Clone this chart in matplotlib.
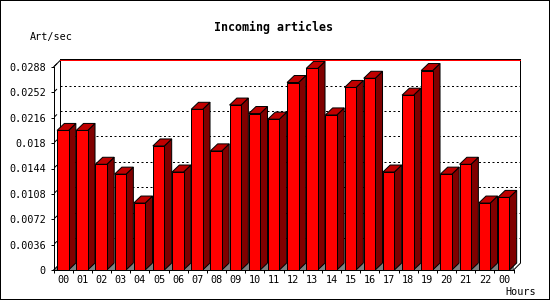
import matplotlib
matplotlib.use('Agg')
import numpy as np
from matplotlib import pyplot as plt
from matplotlib.patches import Polygon
from matplotlib.transforms import offset_copy

# data
hours = ['00', '01', '02', '03', '04', '05', '06', '07', '08', '09', '10', '11',
         '12', '13', '14', '15', '16', '17', '18', '19', '20', '21', '22', '00']
rates = [0.0198, 0.0198, 0.0150, 0.0136, 0.0095, 0.0176, 0.0139, 0.0228,
         0.0169, 0.0234, 0.0222, 0.0214, 0.0266, 0.0286, 0.0220, 0.0259,
         0.0272, 0.0139, 0.0248, 0.0283, 0.0136, 0.0150, 0.0095, 0.0103]
y_ticks = [0, 0.0036, 0.0072, 0.0108, 0.0144, 0.018, 0.0216, 0.0252, 0.0288]
y_labels = ['0', '0.0036', '0.0072', '0.0108', '0.0144', '0.018', '0.0216', '0.0252', '0.0288']

W, H = 550, 300
PX = 0.72  # 1 pixel in points at 100 dpi
mono = 'DejaVu Sans Mono'

# frame round the image: 2px line on the edge, half of it is clipped
fig = plt.figure(figsize=(W / 100, H / 100), dpi=100, facecolor='white',
                 edgecolor='black', linewidth=2 * PX)

# front plane of the pseudo-3d plot, in pixels
ax_l, ax_b, ax_w, ax_h = 53.6, 30, 460, 203
ax = fig.add_axes([ax_l / W, ax_b / H, ax_w / W, ax_h / H])
n = len(rates)
ymax = y_ticks[-1]
ax.set_xlim(-0.5, n - 0.5)
ax.set_ylim(0, ymax)
ax.patch.set_visible(False)

px_x = ax_w / n        # pixels per category
px_y = ax_h / ymax     # pixels per unit
depth = 6.7            # wall depth in pixels
Dx, Dy = depth / px_x, depth / px_y
bdx, bdy = 7.3 / px_x, 7.0 / px_y   # bar depth

back = offset_copy(ax.transData, fig=fig, x=depth, y=depth, units='dots')
back_top = offset_copy(ax.transData, fig=fig, x=depth, y=depth + 1, units='dots')

x0, x1 = -0.5, n - 0.5

# floor
ax.add_patch(Polygon([(x0, 0), (x1, 0), (x1 + Dx, Dy), (x0 + Dx, Dy)], closed=True,
                     facecolor='#808080', edgecolor='none', zorder=0.5))

# back wall grid
for v in y_ticks[1:-1]:
    ax.plot([x0, x1], [v, v], transform=back, color='black', lw=PX,
            linestyle=(0, (2, 2.5)), clip_on=False, zorder=1)

# back wall edges
ax.plot([x0, x0], [0, ymax], transform=back_top, color='black', lw=PX, clip_on=False, zorder=1)
ax.plot([x1, x1], [0, ymax], transform=back_top, color='black', lw=PX, clip_on=False, zorder=1)
ax.plot([x0, x1], [ymax, ymax], transform=back_top, color='black', lw=PX, clip_on=False, zorder=1)
ax.plot([x0, x1], [ymax, ymax], transform=back, color='red', lw=PX, clip_on=False, zorder=1.1)

# diagonals joining front and back planes
for xx, yy in [(x0, 0), (x0, ymax), (x1, 0)]:
    ax.plot([xx, xx + Dx], [yy, yy + Dy], color='black', lw=PX, clip_on=False, zorder=1)

# small marks on the left wall
for v in y_ticks[1:]:
    ax.plot([x0 + 1 / px_x, x0 + 3 / px_x], [v + 1 / px_y, v + 3 / px_y],
            color='black', lw=PX, clip_on=False, zorder=1)

# bars: front, side, top
xs = np.arange(n)
left = xs - 0.32
bw = 0.6
ax.bar(left, rates, width=bw, align='edge', color='#FF0000', edgecolor='black',
       linewidth=PX, zorder=3)
for xl, v in zip(left, rates):
    xr = xl + bw
    ax.add_patch(Polygon([(xr, 0), (xr, v), (xr + bdx, v + bdy), (xr + bdx, bdy)], closed=True,
                         facecolor='#800000', edgecolor='black', linewidth=PX, zorder=2.5,
                         clip_on=False))
    ax.add_patch(Polygon([(xl, v), (xr, v), (xr + bdx, v + bdy), (xl + bdx, v + bdy)], closed=True,
                         facecolor='#C00000', edgecolor='black', linewidth=PX, zorder=2.5,
                         clip_on=False))

# axes / ticks
for s in ['top', 'right']:
    ax.spines[s].set_visible(False)
for s in ['left', 'bottom']:
    ax.spines[s].set_linewidth(PX)
    ax.spines[s].set_zorder(4)

ax.set_yticks(y_ticks)
ax.set_yticklabels(y_labels, family=mono, fontsize=7.3)
ax.tick_params(axis='y', direction='out', length=2.2, width=PX, pad=3.4)

ax.set_xticks(np.arange(-0.5, n, 1))
ax.set_xticklabels([])
ax.set_xticks(xs, minor=True)
ax.set_xticklabels(hours, minor=True, family=mono, fontsize=7.3)
ax.tick_params(axis='x', which='major', direction='out', length=2.4, width=PX)
ax.tick_params(axis='x', which='minor', length=0, pad=3.5)

# texts
fig.text(273 / W, 1 - 27 / H, 'Incoming articles', ha='center', va='center',
         family=mono, fontweight='bold', fontsize=8.4)
fig.text(30 / W, 1 - 37 / H, 'Art/sec', ha='left', va='center', family=mono, fontsize=7.3)
fig.text(505 / W, 1 - 292 / H, 'Hours', ha='left', va='center', family=mono, fontsize=7.3)

fig.savefig('out.png', dpi=100)
